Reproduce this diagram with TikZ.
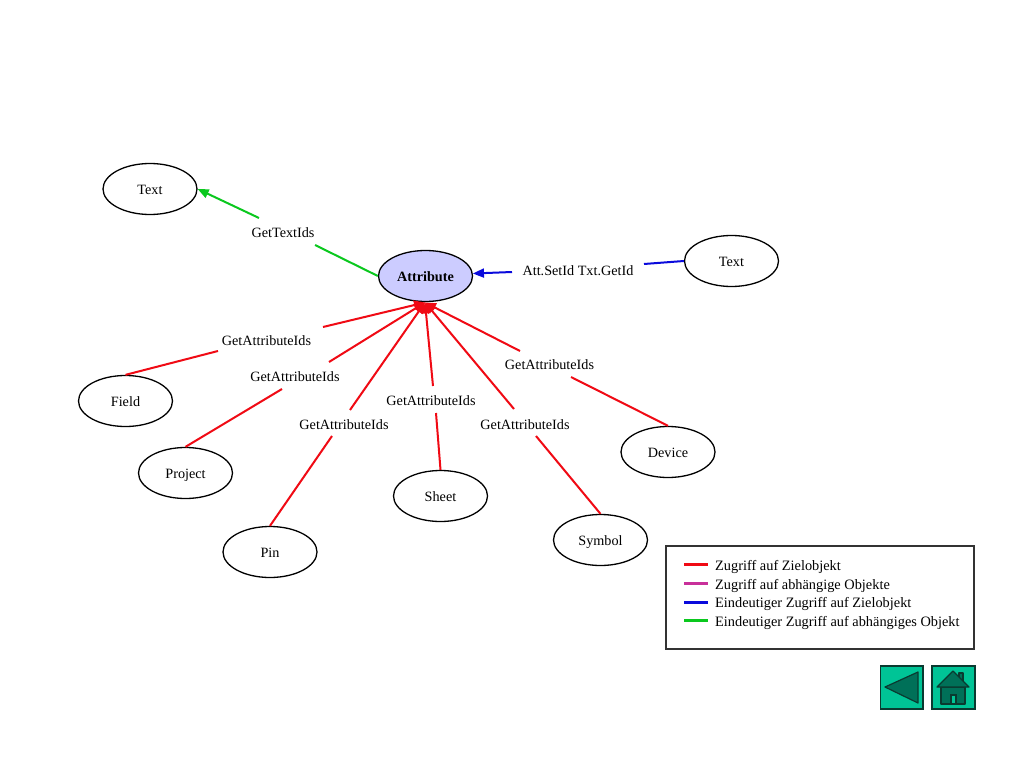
\documentclass[tikz,border=0pt]{standalone}
\usepackage{fontspec}
\setmainfont{Liberation Serif}
\usetikzlibrary{shapes.geometric,arrows.meta}
\definecolor{btn}{HTML}{00C496}
\definecolor{btnd}{HTML}{007058}
\definecolor{btnl}{HTML}{0A3A30}
\definecolor{attrfill}{HTML}{CCCCFF}
\definecolor{gred}{HTML}{F00A14}
\definecolor{gmag}{HTML}{C8309A}
\definecolor{gblue}{HTML}{0A0ADC}
\definecolor{ggreen}{HTML}{0AC81E}
\newcommand{\lblfont}{\fontsize{14.2}{16}\selectfont}
\newcommand{\legfont}{\fontsize{14.35}{16}\selectfont}
\tikzset{
 obj/.style={draw=black,line width=1.3pt,ellipse,minimum width=94pt,minimum height=51pt,inner sep=0pt,text height=11.2pt,text depth=0pt,font=\lblfont},
 lab/.style={inner sep=0pt,text height=11.2pt,text depth=0pt,font=\lblfont},
 edgeline/.style={line width=2pt},
 tipped/.style={edgeline,-{Triangle[length=11pt,width=9pt]}},
 legtext/.style={anchor=west,inner sep=0pt,text height=11.2pt,text depth=0pt,font=\legfont},
 legline/.style={line width=3pt},
 button/.style={draw=btnl,line width=1.2pt,fill=btn},
 buttonpart/.style={draw=btnl,line width=1.2pt,fill=btnd,line join=round}
}
\begin{document}
\begin{tikzpicture}[x=1pt,y=-1pt]
\useasboundingbox (0,0) rectangle (1024,767);
\fill[white] (0,0) rectangle (1024,767);
% nodes
\node[obj] (txtA) at (150,189) {Text};
\node[obj] (txtB) at (731.5,261) {Text};
\node[obj,fill=attrfill,font=\lblfont\bfseries] (attr) at (425.5,276) {Attribute};
\node[obj] (field) at (125.5,401) {Field};
\node[obj] (project) at (185.5,473) {Project};
\node[obj] (pin) at (270,552) {Pin};
\node[obj] (sheet) at (440.5,496) {Sheet};
\node[obj] (symbol) at (600.5,540) {Symbol};
\node[obj] (device) at (668,452) {Device};
\coordinate (hub) at (425,302.5);
% labels
\node[lab] (lgt) at (283,232) {GetTextIds};
\node[lab] (lat) at (578,270) {Att.SetId Txt.GetId};
\node[lab] (l1) at (266.5,339.5) {GetAttributeIds};
\node[lab] (l2) at (295,376) {GetAttributeIds};
\node[lab] (l3) at (344,424) {GetAttributeIds};
\node[lab] (l4) at (431,400) {GetAttributeIds};
\node[lab] (l5) at (525,424) {GetAttributeIds};
\node[lab] (l6) at (549.5,364) {GetAttributeIds};
% break points of the connectors around their labels
\coordinate (gt1) at (315,245); \coordinate (gt2) at (259,218);
\coordinate (bl1) at (644,264); \coordinate (bl2) at (512,272);
\coordinate (r1a) at (218,351); \coordinate (r1b) at (323,327);
\coordinate (r2a) at (282,389); \coordinate (r2b) at (329,362);
\coordinate (r3a) at (332,436); \coordinate (r3b) at (350,410);
\coordinate (r4a) at (436,413); \coordinate (r4b) at (433,386);
\coordinate (r5a) at (536,436); \coordinate (r5b) at (514,409);
\coordinate (r6a) at (571,377); \coordinate (r6b) at (520,351);
% green
\draw[edgeline,ggreen] (attr.west) -- (gt1);
\draw[tipped,ggreen] (gt2) -- (txtA.east);
% blue
\draw[edgeline,gblue] (txtB.west) -- (bl1);
\draw[tipped,gblue] (bl2) -- (attr.3);
% red
\foreach \n/\tg in {1/field,2/project,3/pin,4/sheet,5/symbol,6/device}{
  \draw[edgeline,gred] (\tg.north) -- (r\n a);
  \draw[tipped,gred] (r\n b) -- (hub);
}
% legend
\node[draw=black!80,line width=1.1pt,minimum width=308pt,minimum height=103pt,inner sep=0pt] (legend) at (820,597.5) {};
\coordinate (a1) at (684,564); \coordinate (b1) at (708,564);
\coordinate (a2) at (684,583); \coordinate (b2) at (708,583);
\coordinate (a3) at (684,602); \coordinate (b3) at (708,602);
\coordinate (a4) at (684,620); \coordinate (b4) at (708,620);
\draw[legline,gred] (a1) -- (b1);
\draw[legline,gmag] (a2) -- (b2);
\draw[legline,gblue] (a3) -- (b3);
\draw[legline,ggreen] (a4) -- (b4);
\node[legtext] (t1) at (715,564.5) {Zugriff auf Zielobjekt};
\node[legtext] (t2) at (715,583.5) {Zugriff auf abhängige Objekte};
\node[legtext] (t3) at (715,602) {Eindeutiger Zugriff auf Zielobjekt};
\node[legtext] (t4) at (715,620.5) {Eindeutiger Zugriff auf abhängiges Objekt};
% buttons
\draw[button] (880.5,666) rectangle (923,709);
\draw[buttonpart] (885,687) -- (918,672) -- (918,703) -- cycle;
\draw[button] (932,666) rectangle (975,709);
\draw[buttonpart] (959,673) rectangle (963,682);
\draw[buttonpart] (941,687) rectangle (965,704);
\draw[buttonpart] (953,671) -- (969,687) -- (937,687) -- cycle;
\draw[line width=1.2pt,draw=btnl,fill=btn] (951,695) rectangle (956,704);
\end{tikzpicture}
\end{document}
